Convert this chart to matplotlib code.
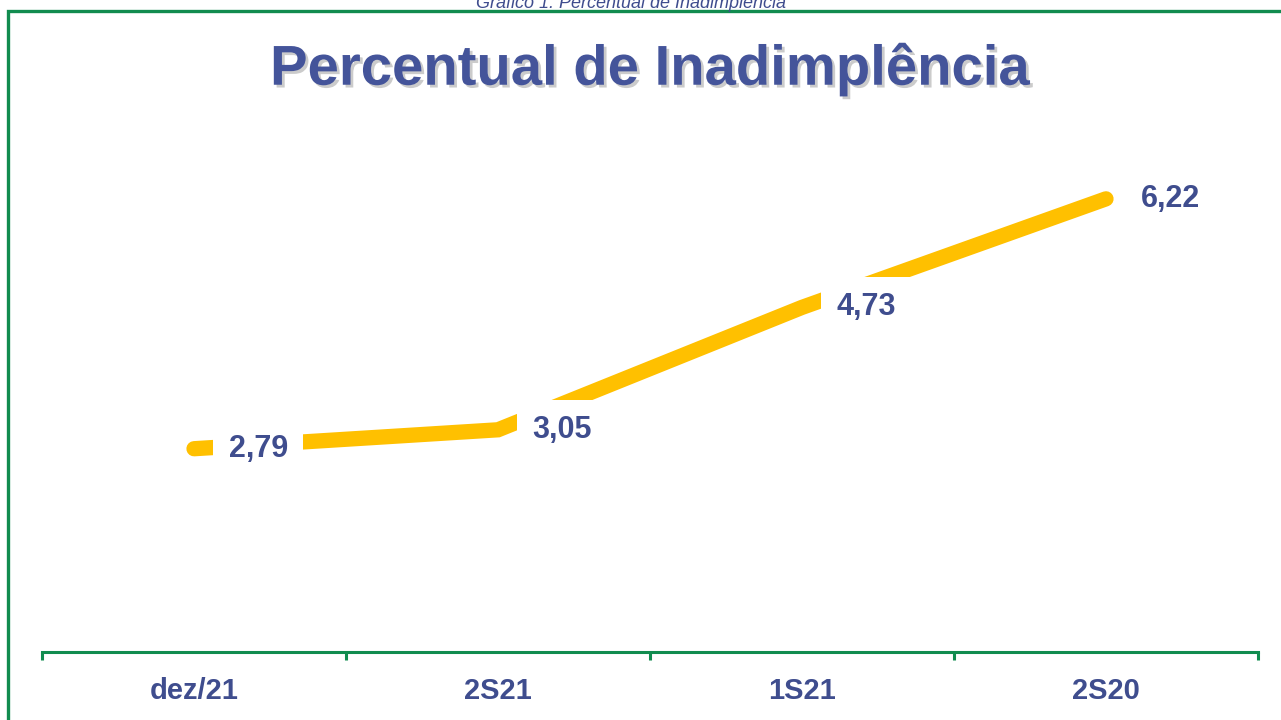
import numpy as np
import matplotlib.pyplot as plt
import matplotlib.patheffects as pe
from matplotlib.lines import Line2D

# data
categories = ['dez/21', '2S21', '1S21', '2S20']
values = [2.79, 3.05, 4.73, 6.22]
value_labels = ['2,79', '3,05', '4,73', '6,22']

title = 'Percentual de Inadimplência'
caption = 'Gráfico 1: Percentual de Inadimplência'

blue = '#3F4D8E'
green = '#118C4F'
yellow = '#FFC000'

plt.rcParams['font.family'] = ['Liberation Sans', 'DejaVu Sans']

W, H = 1281, 720
fig = plt.figure(figsize=(W/100, H/100), dpi=100)
ax = fig.add_axes([42/W, (H-652)/H, (1258-42)/W, (652-142)/H])

x = np.arange(len(categories))
ax.plot(x, values, color=yellow, lw=11, solid_capstyle='round',
        solid_joinstyle='miter', zorder=2)

for xi, v, lab in zip(x, values, value_labels):
    ax.annotate(lab, (xi, v), xytext=(25, 0), textcoords='offset points',
                ha='left', va='center', fontsize=22, fontweight='bold',
                color=blue, zorder=3,
                bbox=dict(boxstyle='square,pad=0.5', fc='white', ec='none'))

ax.set_xlim(-0.5, 3.5)
ax.set_ylim(0, 7)
ax.set_xticks(x)
ax.set_xticklabels(categories, fontsize=21, fontweight='bold', color=blue)
ax.set_xticks(np.arange(-0.5, 4, 1), minor=True)
ax.tick_params(axis='x', which='major', length=0, pad=18)
ax.tick_params(axis='x', which='minor', length=6, width=2.2, color=green,
               direction='out')
ax.set_yticks([])
for s in ['top', 'right', 'left']:
    ax.spines[s].set_visible(False)
ax.spines['bottom'].set_color(green)
ax.spines['bottom'].set_linewidth(2.2)
ax.set_facecolor('none')

# frame
x0, y0 = 8/W, 1 - 11/H
fig.add_artist(Line2D([x0, x0, 1.0], [0.0, y0, y0], color=green, lw=2.4,
                      solid_joinstyle='miter', transform=fig.transFigure))

fig.text(650/W, 1 - 70/H, title, ha='center', va='center', fontsize=40.5,
         fontweight='bold', color='#44549A',
         path_effects=[pe.withSimplePatchShadow(offset=(2, -2),
                                                shadow_rgbFace='#999999',
                                                alpha=0.5)])
fig.text(631/W, 1 - 8/H, caption, ha='center', va='baseline', fontsize=13,
         style='italic', color=blue)

fig.savefig('out.png', dpi=100)
